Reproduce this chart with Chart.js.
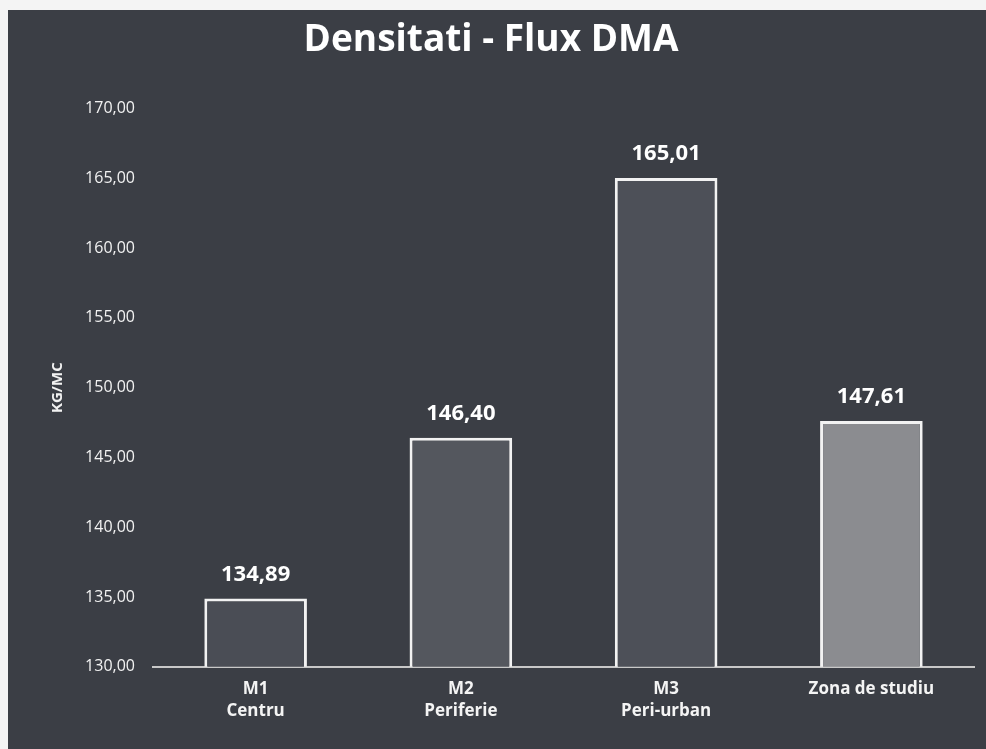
<!DOCTYPE html>
<html>
<head>
<meta charset="utf-8">
<script src="https://cdn.jsdelivr.net/npm/chart.js@4"></script>
<style>
    body { margin: 0; background: #f4f4f4; }
    #wrap { position: absolute; left: 8px; top: 10px; width: 978px; height: 739px; }
</style>
</head>
<body>
<div id="wrap"><canvas id="density-chart"></canvas></div>
<script>
const $ = document.querySelector.bind(document)

const categories = [["M1", "Centru"], ["M2", "Periferie"], ["M3", "Peri-urban"], "Zona de studiu"]
const densities = [134.89, 146.40, 165.01, 147.61]
const barColors = ["#4a4d55", "#54575e", "#4d5058", "#8b8c90"]
const yMin = 130
const yMax = 170
const yStep = 5

const fmt = (v) => v.toFixed(2).replace(".", ",")

const background = {
    id: "background",
    beforeDraw(chart) {
        const c = chart.ctx
        c.save()
        c.fillStyle = "#3b3e45"
        c.fillRect(0, 0, chart.width, chart.height)
        c.restore()
    }
}

const valueLabels = {
    id: "valueLabels",
    afterDatasetsDraw(chart) {
        const c = chart.ctx
        const meta = chart.getDatasetMeta(0)
        c.save()
        c.fillStyle = "#ffffff"
        c.font = "bold 22px 'Open Sans'"
        c.textAlign = "center"
        c.textBaseline = "middle"
        meta.data.forEach((bar, i) => {
            c.fillText(fmt(densities[i]), bar.x, bar.y - 24)
        })
        c.restore()
    }
}

new Chart($("#density-chart"), {
    type: "bar",
    data: {
        labels: categories,
        datasets: [{
            data: densities,
            backgroundColor: barColors,
            borderColor: "#f2f2f2",
            borderWidth: 3,
            borderSkipped: false,
            barPercentage: 0.5,
            categoryPercentage: 1,
        }]
    },
    options: {
        responsive: true,
        maintainAspectRatio: false,
        animation: false,
        layout: {
            padding: { top: 0, right: 12, bottom: 16, left: 0 }
        },
        scales: {
            x: {
                grid: { display: false, drawTicks: false },
                border: { display: true, color: "#c8c8c8", width: 2 },
                ticks: {
                    color: "#f4f4f4",
                    padding: 11,
                    font: { family: "'Open Sans'", size: 17, weight: "bold", lineHeight: 1.3 }
                }
            },
            y: {
                min: yMin,
                max: yMax,
                grid: { display: false, drawTicks: false },
                border: { display: false },
                afterFit: (scale) => { scale.width = 145 },
                ticks: {
                    stepSize: yStep,
                    color: "#f2f2f2",
                    padding: 18,
                    font: { family: "'Open Sans'", size: 16 },
                    callback: (value) => fmt(value)
                },
                title: {
                    display: true,
                    text: "KG/MC",
                    color: "#f2f2f2",
                    font: { family: "'Open Sans'", size: 15, weight: "bold" },
                    padding: { top: 41, bottom: 0 }
                }
            }
        },
        plugins: {
            legend: { display: false },
            tooltip: { enabled: false },
            title: {
                display: true,
                text: "Densitati - Flux DMA",
                color: "#ffffff",
                font: { family: "'Open Sans'", size: 37, weight: "bold" },
                padding: { top: 8, bottom: 46 }
            }
        }
    },
    plugins: [background, valueLabels]
});
</script>
</body>
</html>
